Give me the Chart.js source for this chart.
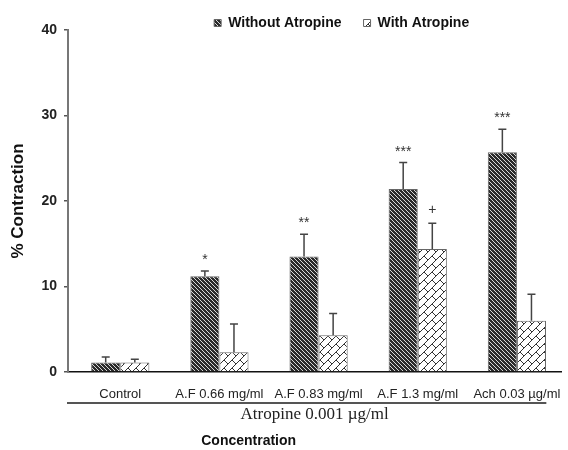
<!DOCTYPE html>
<html lang="en">
  <head>
    <meta charset="UTF-8">
    <title>% Contraction with and without Atropine</title>
    <script src="https://cdn.jsdelivr.net/npm/chart.js"></script>
    <style>
      body {
        margin: 0;
        padding: 0;
        background: #ffffff;
      }
      .chart-container {
        width: 568px;
        height: 450px;
      }
    </style>
  </head>
  <body>
    <div class="chart-container">
      <canvas id="contractionChart"></canvas>
    </div>

    <script>
      // data
      const categories = ['Control', 'A.F 0.66 mg/ml', 'A.F 0.83 mg/ml', 'A.F 1.3 mg/ml', 'Ach 0.03 µg/ml'];
      const withoutAtropine = [1.1, 11.2, 13.5, 21.4, 25.7];
      const withoutAtropineErr = [0.65, 0.6, 2.6, 3.1, 2.7];
      const withAtropine = [1.1, 2.3, 4.3, 14.4, 6.0];
      const withAtropineErr = [0.4, 3.3, 2.55, 3.0, 3.1];
      const withoutMarks = ['', '*', '**', '***', '***'];
      const withMarks = ['', '', '', '+', ''];
      const yTicks = [0, 10, 20, 30, 40];

      // hatch fills
      function makeDarkHatch() {
        const c = document.createElement('canvas');
        c.width = 4;
        c.height = 4;
        const g = c.getContext('2d');
        g.fillStyle = '#2a2a2a';
        g.fillRect(0, 0, 4, 4);
        g.fillStyle = '#d8d8d8';
        for (let i = 0; i < 4; i++) g.fillRect(i, i, 1, 1);
        return g.createPattern(c, 'repeat');
      }

      function makeBrickHatch() {
        const c = document.createElement('canvas');
        c.width = 16;
        c.height = 16;
        const g = c.getContext('2d');
        g.fillStyle = '#ffffff';
        g.fillRect(0, 0, 16, 16);
        g.fillStyle = '#333333';
        for (let x = 0; x < 16; x++) {
          for (let y = 0; y < 16; y++) {
            const s = (x + y) % 16;
            const d = ((x - y) % 16 + 16) % 16;
            const band = Math.floor(s / 8) % 2;
            if (s % 8 === 7) g.fillRect(x, y, 1, 1);
            else if (d === band * 8) g.fillRect(x, y, 1, 1);
          }
        }
        return g.createPattern(c, 'repeat');
      }

      // upper error bars and significance marks
      const errorBars = {
        id: 'errorBars',
        afterDatasetsDraw(chart) {
          const ctx = chart.ctx;
          const y = chart.scales.y;
          chart.data.datasets.forEach((ds, di) => {
            const meta = chart.getDatasetMeta(di);
            meta.data.forEach((bar, i) => {
              const top = y.getPixelForValue(ds.data[i].y + ds.errors[i]);
              ctx.save();
              ctx.strokeStyle = '#444';
              ctx.lineWidth = 1.5;
              ctx.beginPath();
              ctx.moveTo(bar.x, bar.y);
              ctx.lineTo(bar.x, top);
              ctx.moveTo(bar.x - 4, top);
              ctx.lineTo(bar.x + 4, top);
              ctx.stroke();
              const mark = ds.marks[i];
              if (mark) {
                ctx.font = '14px "Liberation Sans", Arial, sans-serif';
                ctx.fillStyle = '#333';
                ctx.textAlign = 'center';
                ctx.textBaseline = 'alphabetic';
                const m = ctx.measureText(mark);
                const centre = top - 14;
                ctx.fillText(mark, bar.x, centre + (m.actualBoundingBoxAscent - m.actualBoundingBoxDescent) / 2);
              }
              ctx.restore();
            });
          });
        }
      };

      // bracket line under the x labels and the "Concentration" caption
      const bottomCaption = {
        id: 'bottomCaption',
        afterLayout(chart) {
          // legend sits right of centre in the figure
          chart.legend.left += 27;
          chart.legend.right += 27;
        },
        afterDraw(chart) {
          const ctx = chart.ctx;
          const x = chart.scales.x;
          const area = chart.chartArea;
          ctx.save();
          ctx.strokeStyle = '#555';
          ctx.lineWidth = 2;
          ctx.beginPath();
          ctx.moveTo(area.left - 1, x.top + 31);
          ctx.lineTo(area.right - 15, x.top + 31);
          ctx.stroke();
          ctx.font = 'bold 14px "Liberation Sans", Arial, sans-serif';
          ctx.fillStyle = '#111';
          ctx.textAlign = 'center';
          ctx.textBaseline = 'alphabetic';
          ctx.fillText('Concentration', (area.left + area.right) / 2 - 66, x.top + 73);
          ctx.restore();
        }
      };

      function createChart() {
        const ctx = document.getElementById('contractionChart').getContext('2d');
        new Chart(ctx, {
          type: 'bar',
          data: {
            datasets: [
              {
                label: 'Without Atropine',
                data: categories.map((c, i) => ({ x: i, y: withoutAtropine[i] })),
                errors: withoutAtropineErr,
                marks: withoutMarks,
                backgroundColor: makeDarkHatch(),
                borderColor: '#666',
                borderWidth: 1,
              },
              {
                label: 'With Atropine',
                data: categories.map((c, i) => ({ x: i, y: withAtropine[i] })),
                errors: withAtropineErr,
                marks: withMarks,
                backgroundColor: makeBrickHatch(),
                borderColor: '#666',
                borderWidth: 1,
              },
            ],
          },
          options: {
            responsive: true,
            maintainAspectRatio: false,
            animation: false,
            categoryPercentage: 0.587,
            barPercentage: 1.0,
            layout: {
              padding: { top: -6, right: 0, bottom: 0, left: 0 },
            },
            plugins: {
              legend: {
                position: 'top',
                fullSize: false,
                maxHeight: 36,
                labels: {
                  boxWidth: 7,
                  boxHeight: 7,
                  padding: 22,
                  color: '#111',
                  font: { family: '"Liberation Sans", Arial, sans-serif', size: 14, weight: 'bold' },
                },
              },
              tooltip: { enabled: false },
            },
            scales: {
              x: {
                type: 'linear',
                min: -0.527,
                max: 4.448,
                offset: false,
                afterBuildTicks: (s) => {
                  s.ticks = categories.map((c, i) => ({ value: i }));
                },
                afterFit: (s) => {
                  s.height = 78;
                },
                grid: { display: false },
                border: { color: '#111', width: 1.5 },
                ticks: {
                  autoSkip: false,
                  maxRotation: 0,
                  padding: 7,
                  color: '#222',
                  font: { family: '"Liberation Sans", Arial, sans-serif', size: 13 },
                  callback: (v) => categories[v],
                },
                title: {
                  display: true,
                  text: 'Atropine 0.001 µg/ml',
                  color: '#222',
                  font: { family: '"Liberation Serif", "Times New Roman", serif', size: 17 },
                  padding: { top: 4, bottom: 25 },
                },
              },
              y: {
                min: 0,
                max: 40,
                afterBuildTicks: (s) => {
                  s.ticks = yTicks.map((v) => ({ value: v }));
                },
                afterFit: (s) => {
                  s.width = 68;
                },
                grid: {
                  drawOnChartArea: false,
                  drawTicks: true,
                  tickLength: 4,
                  color: '#555',
                  lineWidth: 1.5,
                },
                border: { color: '#777', width: 2 },
                ticks: {
                  padding: 7,
                  color: '#222',
                  font: { family: '"Liberation Sans", Arial, sans-serif', size: 14, weight: 'bold' },
                },
                title: {
                  display: true,
                  text: '% Contraction',
                  color: '#111',
                  font: { family: '"Liberation Sans", Arial, sans-serif', size: 17, weight: 'bold' },
                  padding: { top: 8, bottom: 0 },
                },
              },
            },
          },
          plugins: [errorBars, bottomCaption],
        });
      }

      document.addEventListener('DOMContentLoaded', createChart);
    </script>
  </body>
</html>
